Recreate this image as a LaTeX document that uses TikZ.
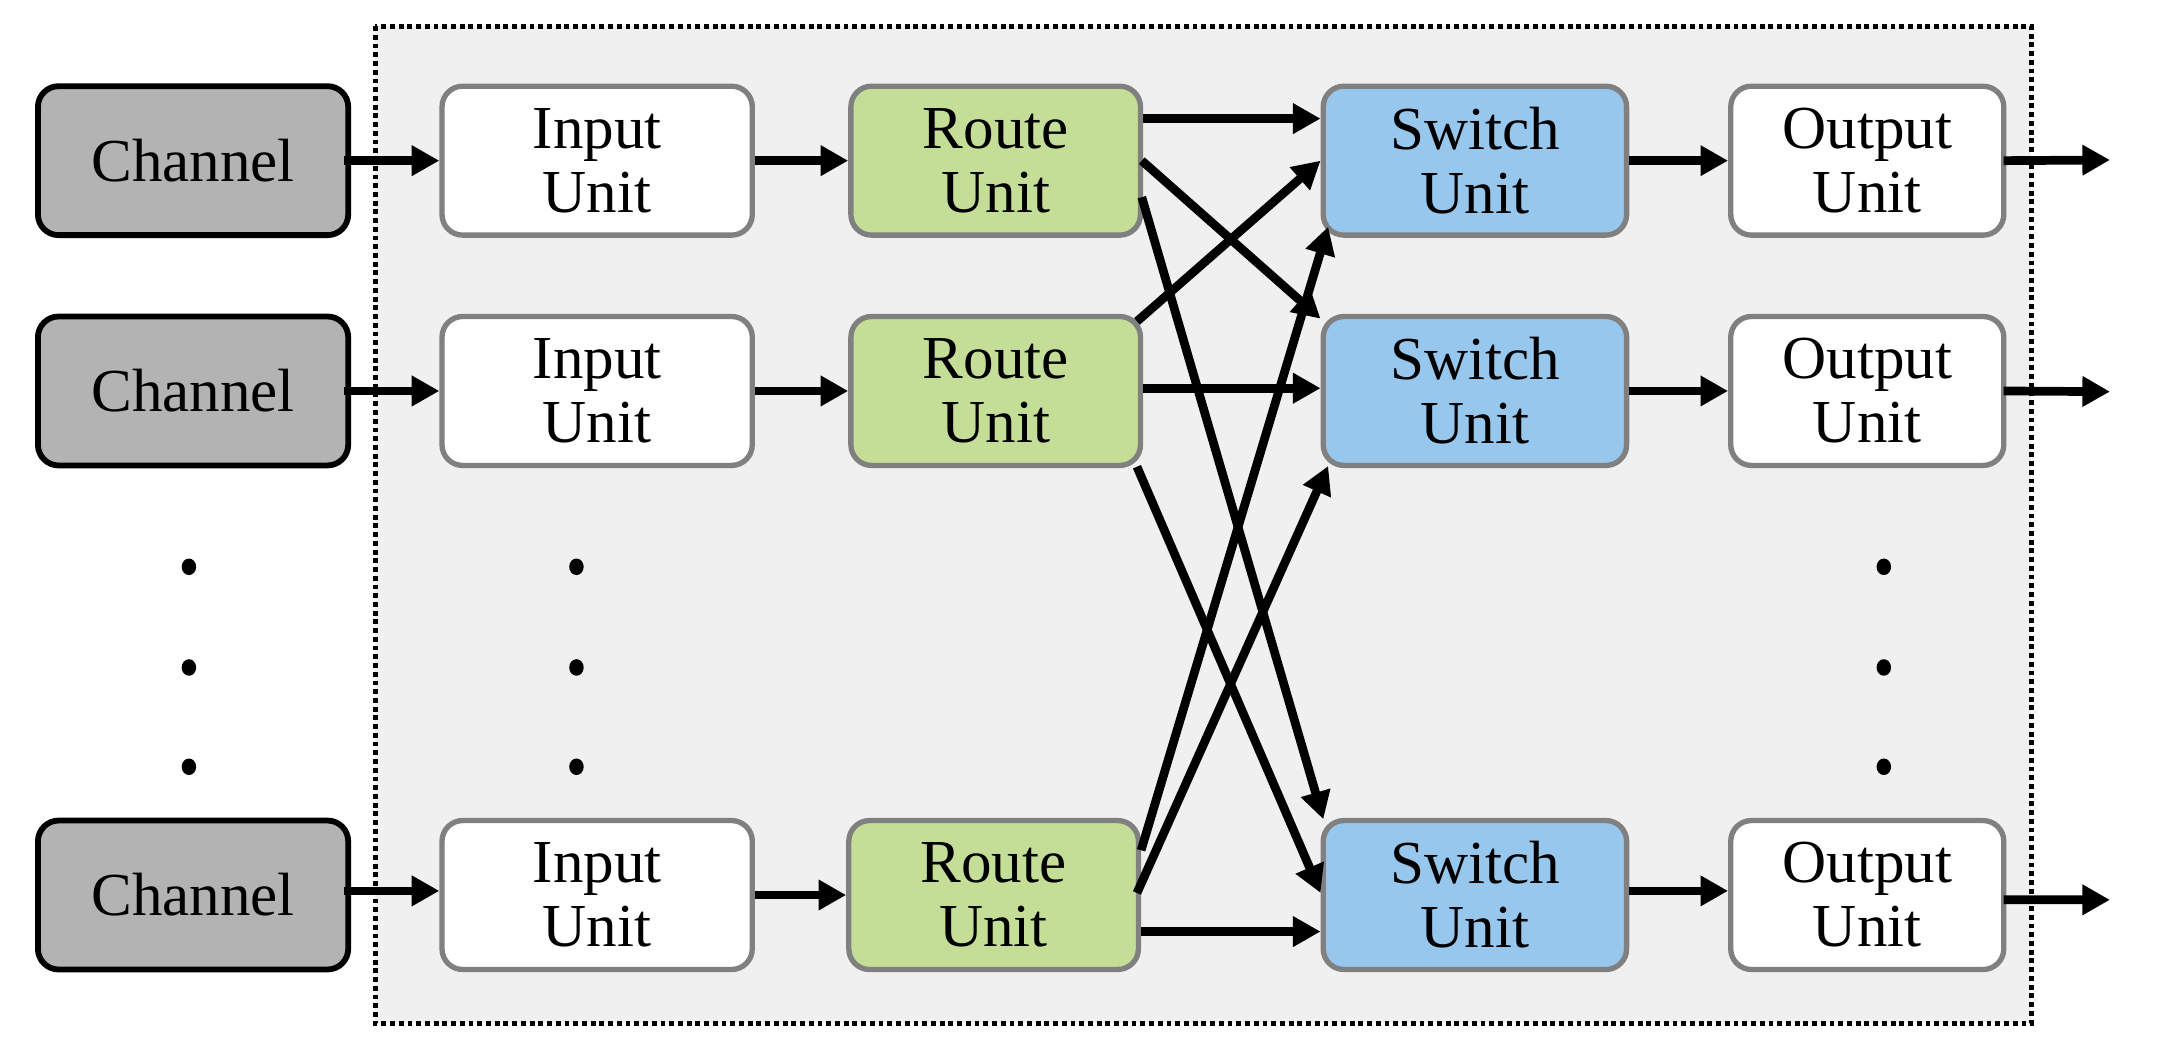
\documentclass[tikz,border=0pt]{standalone}
\usepackage{fontspec}
\setmainfont{Liberation Serif}
\usetikzlibrary{arrows.meta,calc,shapes.geometric}
\definecolor{chgray}{HTML}{B3B3B3}
\definecolor{bordergray}{HTML}{808080}
\definecolor{routegreen}{HTML}{C4DE97}
\definecolor{switchblue}{HTML}{98C7EE}
\definecolor{bggray}{HTML}{F0F0F0}
\begin{document}
\begin{tikzpicture}[x=1cm,y=1cm,
  box/.style={rounded corners=0.15cm, minimum height=1.08cm, align=center,
    font=\fontsize{12.6}{13.2}\selectfont, inner sep=0pt, line width=1.1pt, draw=bordergray},
  chanbox/.style={box, draw=black, line width=1.2pt, fill=chgray, minimum width=2.25cm},
  inbox/.style={box, fill=white, minimum width=2.25cm},
  routebox/.style={box, fill=routegreen, minimum width=2.10cm},
  switchbox/.style={box, fill=switchblue, minimum width=2.20cm},
  outbox/.style={box, fill=white, minimum width=1.98cm},
  conn/.style={line width=1.8pt, -{Triangle[length=0.2cm,width=0.21cm]}},
  dotmark/.style={ellipse, fill=black, draw=none, inner sep=0pt, minimum width=0.105cm, minimum height=0.12cm}
]
\useasboundingbox (0,0) rectangle (15.67,-7.65);
\draw[fill=bggray, line width=1pt, dash pattern=on 1pt off 0.8pt] (2.72,-0.19) rectangle (14.73,-7.42);

% row 1
\node[chanbox]   (c1) at (1.40,-1.165) {Channel};
\node[inbox]     (i1) at (4.33,-1.165) {Input\\Unit};
\node[routebox]  (r1) at (7.22,-1.165) {Route\\Unit};
\node[switchbox] (s1) at (10.695,-1.165) {Switch\\Unit};
\node[outbox]    (o1) at (13.54,-1.165) {Output\\Unit};
% row 2
\node[chanbox]   (c2) at (1.40,-2.835) {Channel};
\node[inbox]     (i2) at (4.33,-2.835) {Input\\Unit};
\node[routebox]  (r2) at (7.22,-2.835) {Route\\Unit};
\node[switchbox] (s2) at (10.695,-2.835) {Switch\\Unit};
\node[outbox]    (o2) at (13.54,-2.835) {Output\\Unit};
% row 3
\node[chanbox]   (c3) at (1.40,-6.49) {Channel};
\node[inbox]     (i3) at (4.33,-6.49) {Input\\Unit};
\node[routebox]  (r3) at (7.205,-6.49) {Route\\Unit};
\node[switchbox] (s3) at (10.695,-6.49) {Switch\\Unit};
\node[outbox]    (o3) at (13.54,-6.49) {Output\\Unit};

% ellipsis dots
\node[dotmark] (cd1) at (1.37,-4.11) {};
\node[dotmark] (cd2) at (1.37,-4.84) {};
\node[dotmark] (cd3) at (1.37,-5.56) {};
\node[dotmark] (id1) at (4.18,-4.11) {};
\node[dotmark] (id2) at (4.18,-4.84) {};
\node[dotmark] (id3) at (4.18,-5.56) {};
\node[dotmark] (od1) at (13.66,-4.11) {};
\node[dotmark] (od2) at (13.66,-4.84) {};
\node[dotmark] (od3) at (13.66,-5.56) {};

% free ends
\coordinate (e1) at (15.30,-1.16);
\coordinate (e2) at (15.30,-2.84);
\coordinate (e3) at (15.30,-6.525);

% channel -> input
\draw[conn] ([xshift=-0.05cm]c1.east) -- (i1.west);
\draw[conn] ([xshift=-0.05cm]c2.east) -- (i2.west);
\draw[conn] ([xshift=-0.05cm,yshift=0.03cm]c3.east) -- ([yshift=0.03cm]i3.west);
% input -> route
\draw[conn] (i1.east) -- (r1.west);
\draw[conn] (i2.east) -- (r2.west);
\draw[conn] (i3.east) -- (r3.west);
% route -> switch
\draw[conn] ([yshift=0.305cm]r1.east) -- ([yshift=0.305cm]s1.west);
\draw[conn] ([xshift=-0.01cm]r1.east) -- ([yshift=-0.035cm]s2.north west);
\draw[conn] ([xshift=-0.01cm,yshift=-0.265cm]r1.east) -- ([xshift=0.02cm,yshift=-0.01cm]s3.north west);
\draw[conn] ([xshift=-0.045cm,yshift=-0.055cm]r2.north east) -- (s1.west);
\draw[conn] ([yshift=0.02cm]r2.east) -- ([yshift=0.02cm]s2.west);
\draw[conn] ([xshift=-0.045cm,yshift=0.01cm]r2.south east) -- ([yshift=0.015cm]s3.west);
\draw[conn] ([yshift=0.325cm]r3.east) -- ([xshift=0.055cm,yshift=0.08cm]s1.south west);
\draw[conn] ([xshift=-0.03cm,yshift=0.015cm]r3.east) -- ([xshift=0.055cm,yshift=0.015cm]s2.south west);
\draw[conn] ([yshift=-0.265cm]r3.east) -- ([yshift=-0.265cm]s3.west);
% switch -> output
\draw[conn] (s1.east) -- (o1.west);
\draw[conn] (s2.east) -- (o2.west);
\draw[conn] ([yshift=0.03cm]s3.east) -- ([yshift=0.03cm]o3.west);
% output -> out
\draw[conn] ([xshift=-0.02cm]o1.east) -- (e1);
\draw[conn] ([xshift=-0.02cm]o2.east) -- (e2);
\draw[conn] ([xshift=-0.02cm,yshift=-0.035cm]o3.east) -- (e3);
\end{tikzpicture}
\end{document}
